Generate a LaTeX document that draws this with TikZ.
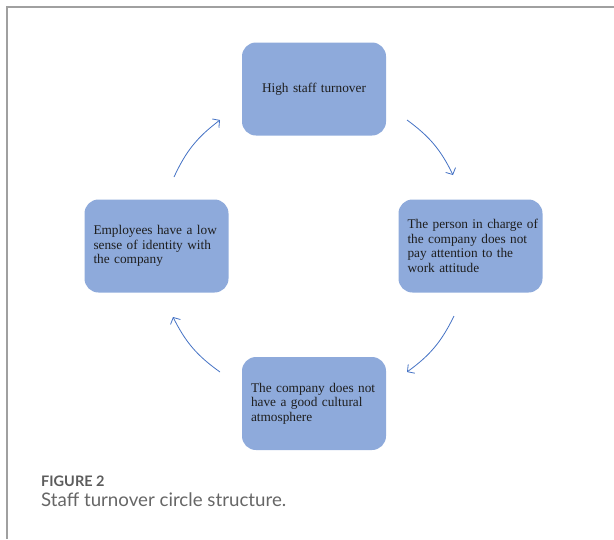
\documentclass[tikz,border=0pt]{standalone}
\usepackage{fontspec}
\setmainfont{Liberation Serif}
\newfontfamily\capfont{Lato}
\usetikzlibrary{arrows.meta}
\definecolor{boxblue}{HTML}{8EAADB}
\definecolor{arrowblue}{HTML}{4472C4}
\definecolor{boxtext}{HTML}{1E1E1E}
\definecolor{framegray}{HTML}{A0A0A0}
\definecolor{capgray}{HTML}{666666}
\newcommand{\indL}{\hspace*{7pt}}
\tikzset{
  causebox/.style={fill=boxblue, rounded corners=14pt, text=boxtext,
    font=\fontsize{13.3}{14.5}\selectfont, minimum height=93pt,
    text width=140pt, inner xsep=2pt, inner ysep=0pt, align=left},
  cyclearrow/.style={draw=arrowblue, line width=0.8pt,
    -{Straight Barb[length=5pt,width=11pt]}},
}
\begin{document}
\begin{tikzpicture}[x=1pt,y=-1pt]
\useasboundingbox (0,0) rectangle (614,539);
\draw[framegray, line width=1.3pt] (7,539) -- (7,7) -- (614,7);
\node[causebox, align=center] (top) at (314,89) {High staff turnover};
\node[causebox] (right) at (470.5,246) {\indL The person in charge of\\\indL the company does not\\\indL pay attention to the\\\indL work attitude};
\node[causebox] (bottom) at (314,403.5) {\indL The company does not\\\indL have a good cultural\\\indL atmosphere};
\node[causebox] (left) at (156.5,246) {\indL Employees have a low\\\indL sense of identity with\\\indL the company};
\coordinate (a1s) at (174,177);
\coordinate (a1e) at (220,120);
\coordinate (a2s) at (407,120);
\coordinate (a2e) at (453,175);
\coordinate (a3s) at (454,316);
\coordinate (a3e) at (407,372);
\coordinate (a4s) at (220,372);
\coordinate (a4e) at (173,317);
\draw[cyclearrow] (a1s) to[bend left=14] (a1e);
\draw[cyclearrow] (a2s) to[bend left=14] (a2e);
\draw[cyclearrow] (a3s) to[bend left=14] (a3e);
\draw[cyclearrow] (a4s) to[bend left=14] (a4e);
\node[anchor=base west, inner sep=0pt, text=capgray!90!black, font=\capfont\bfseries\fontsize{14.5}{16}\selectfont] (figlabel) at (41,486) {FIGURE 2};
\node[anchor=base west, inner sep=0pt, text=capgray, font=\capfont\fontsize{18.7}{20}\selectfont] (figcaption) at (41,506) {Staff turnover circle structure.};
\end{tikzpicture}
\end{document}
